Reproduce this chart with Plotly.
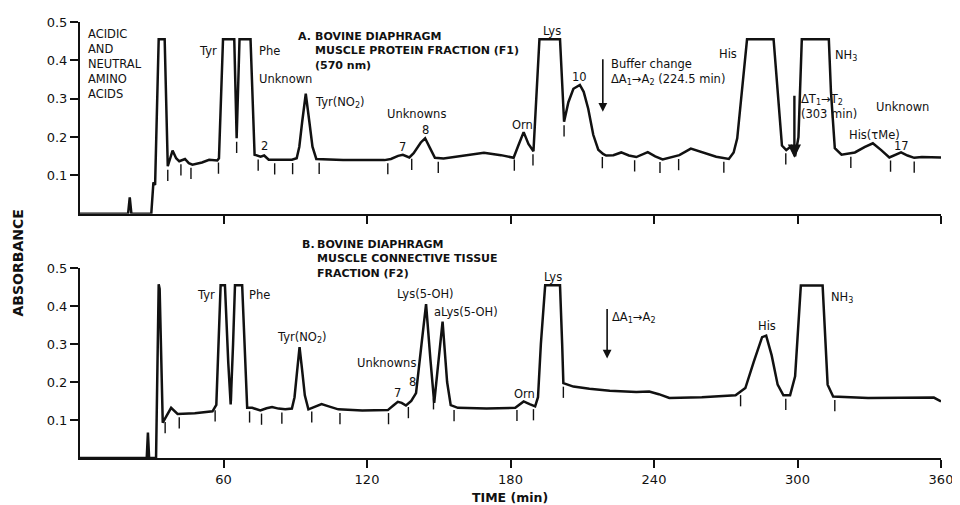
import numpy as np
import plotly.graph_objects as go

# ---------------- data ----------------
# Panel A: bovine diaphragm muscle protein fraction (F1), 570 nm  -> (time min, absorbance)
trace_a_points = [
    (0, 0), (20.1, 0), (20.8, 0.043), (21.5, 0), (29.8, 0), (30.7, 0.082), (31.4, 0.075),
    (32.9, 0.455), (35.4, 0.455), (36.7, 0.124), (38.7, 0.165), (40.2, 0.145), (41.5, 0.137),
    (43.9, 0.143), (45.5, 0.132), (47.0, 0.128), (51.0, 0.134), (54.0, 0.141), (57.4, 0.139),
    (58.1, 0.145), (59.8, 0.455), (64.5, 0.455), (65.5, 0.197), (66.7, 0.455), (71.3, 0.455),
    (73.0, 0.154), (75.5, 0.149), (77.0, 0.152), (78.9, 0.141), (88.6, 0.141), (90.6, 0.145),
    (91.7, 0.175), (92.9, 0.240), (94.4, 0.313), (95.9, 0.240), (97.2, 0.175), (98.8, 0.143),
    (110, 0.140), (127.3, 0.140), (130, 0.143), (133, 0.151), (135, 0.154), (137.7, 0.147),
    (139.5, 0.158), (142.5, 0.186), (144.3, 0.197), (146.3, 0.172), (148.4, 0.146), (152, 0.144),
    (160, 0.152), (168.9, 0.159), (176, 0.153), (181.3, 0.146), (183.4, 0.180), (185.5, 0.213),
    (187.5, 0.182), (189.6, 0.163), (192.1, 0.455), (200.7, 0.455), (202.4, 0.240), (204.2, 0.291),
    (206.3, 0.326), (209.0, 0.336), (210.6, 0.318), (212.5, 0.274), (214.6, 0.206), (216.7, 0.167),
    (218.7, 0.156), (220, 0.152), (223, 0.153), (226.3, 0.160), (229.5, 0.152), (232.6, 0.148),
    (237.4, 0.161), (240.5, 0.150), (243.6, 0.142), (247, 0.148), (249.2, 0.150), (250.6, 0.153),
    (255.4, 0.170), (260, 0.160), (266, 0.149), (271.3, 0.143), (273.3, 0.160), (274.8, 0.197),
    (278.9, 0.455), (290.0, 0.455), (293.5, 0.178), (295.3, 0.166), (297.3, 0.176), (299.0, 0.150),
    (300.4, 0.200), (301.8, 0.455), (313.1, 0.455), (314.0, 0.317), (315.1, 0.227), (315.6, 0.171),
    (318.4, 0.154), (324, 0.160), (328, 0.174), (331.5, 0.184), (335, 0.166), (338.4, 0.147),
    (343.3, 0.160), (346, 0.152), (348.8, 0.146), (352, 0.148), (360, 0.147),
]

# Panel B: bovine diaphragm muscle connective tissue fraction (F2)
trace_b_points = [
    (0, 0), (27.9, 0), (28.4, 0.067), (28.9, 0), (31.8, 0), (32.9, 0.457), (33.3, 0.445),
    (34.6, 0.093), (35.6, 0.104), (38.1, 0.132), (40.8, 0.116), (48, 0.118), (55.4, 0.123),
    (57.0, 0.140), (58.8, 0.455), (60.6, 0.455), (62.0, 0.250), (63.0, 0.141), (64.0, 0.300),
    (64.8, 0.455), (67.8, 0.455), (69.3, 0.200), (69.9, 0.132), (72, 0.132), (75.4, 0.125),
    (78, 0.131), (80.3, 0.134), (83, 0.130), (85.8, 0.128), (88.6, 0.130), (89.7, 0.160),
    (90.8, 0.230), (91.8, 0.292), (92.9, 0.230), (94.0, 0.165), (95.5, 0.128), (98, 0.135),
    (101, 0.142), (104, 0.136), (108, 0.128), (118, 0.125), (128.7, 0.126), (131, 0.138),
    (132.9, 0.148), (134.5, 0.145), (136.3, 0.138), (138.5, 0.150), (140.5, 0.171), (142.8, 0.300),
    (144.7, 0.405), (146.5, 0.260), (148.1, 0.145), (149.8, 0.250), (151.6, 0.359), (153.5, 0.200),
    (155, 0.139), (158, 0.132), (170, 0.130), (182, 0.132), (183.8, 0.142), (185.5, 0.149),
    (188, 0.142), (190.3, 0.136), (191.5, 0.160), (192.7, 0.300), (194.5, 0.455), (200.7, 0.455),
    (201.6, 0.300), (202.1, 0.197), (206.3, 0.188), (213, 0.182), (221.5, 0.177), (232.6, 0.174),
    (238, 0.175), (242, 0.168), (246.4, 0.158), (260, 0.160), (274.1, 0.165), (278.2, 0.184),
    (281.7, 0.253), (285.2, 0.318), (286.9, 0.322), (289.2, 0.270), (291.7, 0.193), (294.1, 0.165),
    (296.9, 0.165), (299.0, 0.215), (301.4, 0.454), (310.5, 0.454), (312.6, 0.193), (314.9, 0.162),
    (329.5, 0.158), (345, 0.159), (357, 0.159), (360, 0.149),
]

time_a = [p[0] for p in trace_a_points]
abs_a = [p[1] for p in trace_a_points]
time_b = [p[0] for p in trace_b_points]
abs_b = [p[1] for p in trace_b_points]

# fraction / peak-boundary marks under the traces (minutes)
marks_a = [36.7, 42.2, 46.4, 57.9, 65.5, 74.5, 81.4, 88.9, 100, 128.7, 138.7, 149.8,
           181.6, 189.4, 202.4, 218.4, 231.9, 242.5, 250.3, 269.2, 295.1, 322.3, 338.9, 348.8]
marks_b = [35.6, 41.5, 56.5, 63.3, 70.9, 75.9, 84.4, 96.9, 108.7, 129, 137.3, 147.8,
           156.4, 182.7, 189.6, 202.1, 276.2, 295.1, 315.6]

x_tick_vals = [60, 120, 180, 240, 300, 360]
x_tick_text = ["60", "120", "180", "240", "300", "360"]
y_tick_vals = [0.1, 0.2, 0.3, 0.4, 0.5]
y_tick_text = ["0.1", "0.2", "0.3", "0.4", "0.5"]

# ---------------- figure ----------------
FONT = "DejaVu Sans"
INK = "#111111"

fig = go.Figure()
fig.add_trace(go.Scatter(x=time_a, y=abs_a, mode="lines", xaxis="x", yaxis="y",
                         line=dict(color=INK, width=2.5), hoverinfo="skip", showlegend=False))
fig.add_trace(go.Scatter(x=time_b, y=abs_b, mode="lines", xaxis="x2", yaxis="y2",
                         line=dict(color=INK, width=2.5), hoverinfo="skip", showlegend=False))

mark_a_y = np.interp(marks_a, time_a, abs_a) - 0.024
mark_b_y = np.interp(marks_b, time_b, abs_b) - 0.024
mark_style = dict(symbol="line-ns-open", size=8, color=INK, line=dict(color=INK, width=1.4))
fig.add_trace(go.Scatter(x=marks_a, y=mark_a_y, mode="markers", xaxis="x", yaxis="y",
                         marker=mark_style, hoverinfo="skip", showlegend=False))
fig.add_trace(go.Scatter(x=marks_b, y=mark_b_y, mode="markers", xaxis="x2", yaxis="y2",
                         marker=mark_style, hoverinfo="skip", showlegend=False))

ann = []


def lab(text, x, y, panel, xanchor="center", yanchor="middle", size=11.5, bold=False, align="center", yref=None):
    ann.append(dict(
        text=f"<b>{text}</b>" if bold else text, x=x, y=y,
        xref="x" if panel == 1 else "x2",
        yref=yref if yref else ("y" if panel == 1 else "y2"),
        xanchor=xanchor, yanchor=yanchor, align=align, showarrow=False,
        font=dict(family=FONT, size=size, color=INK)))


# panel A labels
lab("ACIDIC<br>AND<br>NEUTRAL<br>AMINO<br>ACIDS", 2.3, 0.492, 1, xanchor="left", yanchor="top", align="left", size=11.5)
lab("Tyr", 58.3, 0.424, 1, xanchor="right")
lab("Phe", 74.0, 0.424, 1, xanchor="left")
lab("Unknown", 74.0, 0.351, 1, xanchor="left")
lab("2", 77.1, 0.176, 1)
lab("Tyr(NO<sub>2</sub>)", 97.6, 0.291, 1, xanchor="left")
lab("A.", 90.2, 0.462, 1, xanchor="left", bold=True, size=11)
lab("BOVINE DIAPHRAGM<br>MUSCLE PROTEIN FRACTION (F1)<br>(570 nm)", 97.6, 0.484, 1,
    xanchor="left", yanchor="top", align="left", bold=True, size=11)
lab("Unknowns", 140.8, 0.261, 1)
lab("8", 144.3, 0.219, 1)
lab("7", 135.0, 0.173, 1)
lab("Orn", 185.2, 0.231, 1)
lab("Lys", 197.3, 0.476, 1)
lab("10", 209.0, 0.357, 1)
lab("Buffer change<br>ΔA<sub>1</sub>→A<sub>2</sub> (224.5 min)", 221.0, 0.415, 1,
    xanchor="left", yanchor="top", align="left")
lab("His", 275.7, 0.417, 1, xanchor="right")
lab("NH<sub>3</sub>", 314.9, 0.413, 1, xanchor="left")
lab("ΔT<sub>1</sub>→T<sub>2</sub><br>(303 min)", 300.6, 0.322, 1, xanchor="left", yanchor="top", align="left")
lab("Unknown", 332.0, 0.278, 1, xanchor="left")
lab("His(τMe)", 320.9, 0.206, 1, xanchor="left")
lab("17", 343.3, 0.176, 1)

# panel B labels
lab("B.", 92.1, 0.490, 2, xanchor="left", bold=True, size=11, yref="paper")
lab("BOVINE DIAPHRAGM<br>MUSCLE CONNECTIVE TISSUE<br>FRACTION (F2)", 98.3, 0.509, 2,
    xanchor="left", yanchor="top", align="left", bold=True, size=11, yref="paper")
lab("Tyr", 57.4, 0.428, 2, xanchor="right")
lab("Phe", 69.9, 0.428, 2, xanchor="left")
lab("Tyr(NO<sub>2</sub>)", 81.4, 0.318, 2, xanchor="left")
lab("Unknowns", 128.3, 0.249, 2)
lab("7", 132.9, 0.171, 2)
lab("8", 139.1, 0.200, 2)
lab("Lys(5-OH)", 144.5, 0.431, 2)
lab("aLys(5-OH)", 161.6, 0.383, 2)
lab("Orn", 186.0, 0.168, 2)
lab("Lys", 197.7, 0.477, 2)
lab("ΔA<sub>1</sub>→A<sub>2</sub>", 221.5, 0.370, 2, xanchor="left")
lab("His", 287.4, 0.347, 2)
lab("NH<sub>3</sub>", 313.1, 0.422, 2, xanchor="left")


def arrow(x, y_from, y_to, panel, width=1.6):
    xr = "x" if panel == 1 else "x2"
    yr = "y" if panel == 1 else "y2"
    ann.append(dict(text="", x=x, y=y_to, ax=x, ay=y_from, xref=xr, yref=yr, axref=xr, ayref=yr,
                    showarrow=True, arrowhead=2, arrowsize=1.1, arrowwidth=width,
                    arrowcolor=INK, standoff=0, startstandoff=0))


arrow(218.6, 0.407, 0.266, 1)
arrow(298.7, 0.312, 0.146, 1, width=2.4)
arrow(220.4, 0.396, 0.262, 2)

# axis titles
ann.append(dict(text="<b>ABSORBANCE</b>", x=-0.0715, y=0.447, xref="paper", yref="paper",
                textangle=-90, showarrow=False, xanchor="center", yanchor="middle",
                font=dict(family=FONT, size=14, color=INK)))
ann.append(dict(text="<b>TIME (min)</b>", x=0.4994, y=-0.0903, xref="paper", yref="paper",
                showarrow=False, xanchor="center", yanchor="middle",
                font=dict(family=FONT, size=12.5, color=INK)))

axis_common = dict(showline=True, linecolor=INK, linewidth=2, ticks="outside", ticklen=8,
                   tickwidth=1.5, tickcolor=INK, showgrid=False, zeroline=False,
                   tickfont=dict(family=FONT, size=13, color=INK))

# the page body adds an 8 px offset, so the figure is sized/margined to land on the reference grid
fig.update_layout(
    width=952, height=497,
    margin=dict(l=72, r=13, t=7, b=47),
    paper_bgcolor="white", plot_bgcolor="white",
    showlegend=False,
    xaxis=dict(domain=[0, 1], anchor="y", range=[0, 360], tickvals=x_tick_vals,
               showticklabels=False, **axis_common),
    yaxis=dict(domain=[0.56, 1.0], anchor="x", range=[0, 0.5], tickvals=y_tick_vals,
               ticktext=y_tick_text, **axis_common),
    xaxis2=dict(domain=[0, 1], anchor="y2", range=[0, 360], tickvals=x_tick_vals,
                ticktext=x_tick_text, **axis_common),
    yaxis2=dict(domain=[0, 0.4357], anchor="x2", range=[0, 0.5], tickvals=y_tick_vals,
                ticktext=y_tick_text, **axis_common),
    annotations=ann,
)

fig.write_html("out.html")
